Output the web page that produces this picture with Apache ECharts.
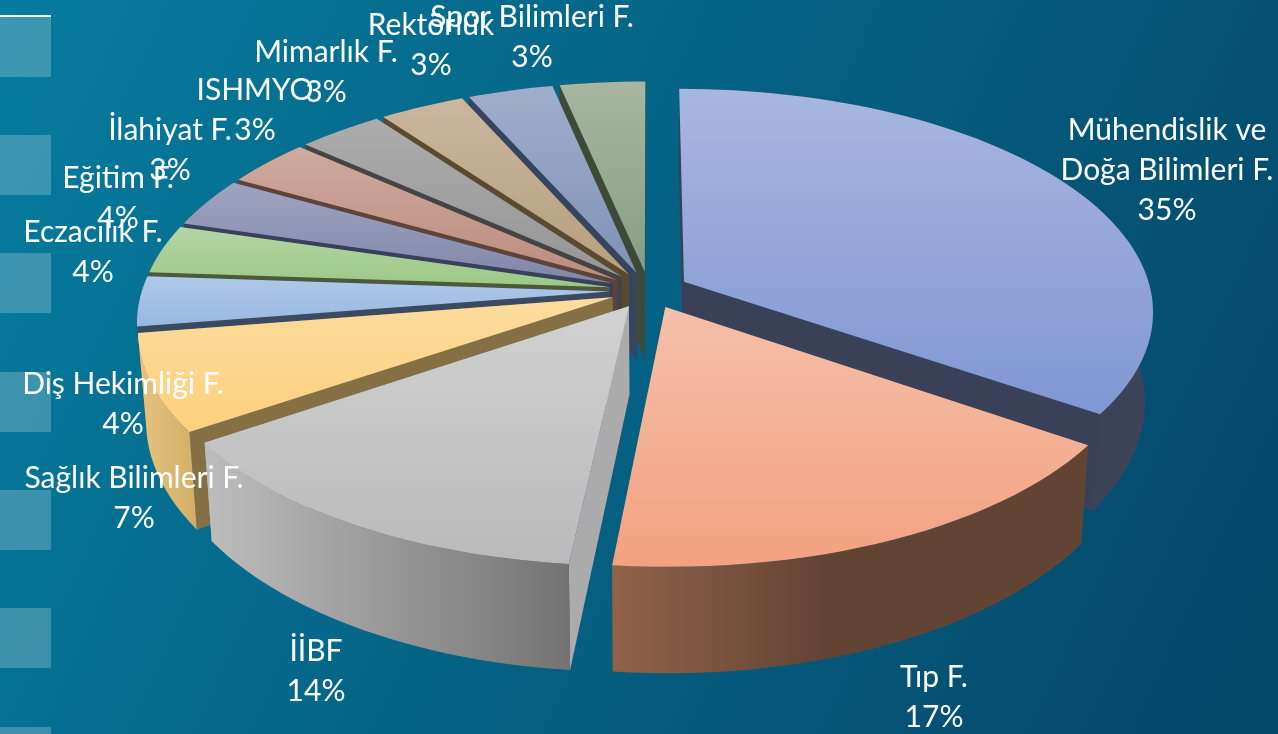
<!DOCTYPE html>
<html><head><meta charset="utf-8">
<style>html,body{margin:0;padding:0;background:#05607f}#c{width:1278px;height:734px}</style>
<script src="https://cdn.jsdelivr.net/npm/echarts@6/dist/echarts.min.js"></script>
</head><body><div id="c"></div>
<script>
const CATEGORIES = ['Mühendislik ve\nDoğa Bilimleri F.','Tıp F.','İİBF','Sağlık Bilimleri F.','Diş Hekimliği F.','Eczacılık F.','Eğitim F.','İlahiyat F.','ISHMYO','Mimarlık F.','Rektörlük','Spor Bilimleri F.'];
// unrounded shares; labels show them rounded
const VALUES = [35,16.6,13.5,6.9,3.6,3.5,3.6,3.46,3.46,3.46,3.46,3.46];
const TOP_LIGHT = ['#A8B6E0','#F4C0A9','#D1D1D1','#FDDC9F','#B0C9E9','#B4D5A5','#9EA4C0','#CFAA9F','#ACACAC','#C9B79E','#A0AEC9','#A6B6A0'];
const TOP_DARK  = ['#8197D3','#F4A180','#BABABA','#FDD07C','#97B7E2','#9CC885','#8086A8','#BB8C7D','#969696','#B59F7D','#7E92B8','#899E81'];
const WALL_L = ['#3A4057','#916249','#BDBDBD','#E6C481','#3A4A60','#4A5A3A','#38405A','#5E4438','#444444','#5A4A30','#36445E','#3E4A36'];
const WALL_R = ['#3C4359','#624435','#737373','#D2AE66','#3A4A60','#4A5A3A','#38405A','#5E4438','#444444','#5A4A30','#36445E','#3E4A36'];
const WALL_STOP = [1,0.45,1,1,1,1,1,1,1,1,1,1];
const CUT    = ['#3A4057','#6B4A38','#ABABAB','#857045','#3A4A60','#4A5A3A','#38405A','#5E4438','#444444','#5A4A30','#36445E','#3E4A36'];
// block centre of each label, in page pixels
const LABEL_X = [1167,934,316,134,123,93,118,170,255,326,431,532];
const LABEL_Y = [170,697,671,498,404,252,198,150,110,72,45,37];
const SQUARE_Y = [17,135,253,372,490,608,727];

const CX=649, CY=283, RX=465, RY=218, K=0.16, EXPLODE=0.085, H=88, SHRINK=0.984, STEP=2, APEX_DROP=7;
const TOTAL = VALUES.reduce((a,b)=>a+b,0);
const starts=[]; VALUES.reduce((acc,v,i)=>{starts[i]=acc;return acc+v;},0);
const toAngle = p => p/TOTAL*Math.PI*2;
function project(u,v,z){
  const s=1/(1-K*v);
  const xs=z?SHRINK:1;
  return [CX+RX*u*s*xs, CY+RY*v*s+(z?H*s:0)];
}
const order = VALUES.map((v,i)=>i).sort((a,b)=>-Math.cos(toAngle(starts[a]+VALUES[a]/2))+Math.cos(toAngle(starts[b]+VALUES[b]/2)));
const rank = []; order.forEach((d,r)=>rank[d]=r);
const grad=(x,y,x2,y2,a,b,stop)=>new echarts.graphic.LinearGradient(x,y,x2,y2,[{offset:0,color:a},{offset:stop===undefined?1:stop,color:b},{offset:1,color:b}]);

function renderItem(params,api){
  const i=params.dataIndex, val=api.value(0);
  const a0=toAngle(starts[i]), a1=toAngle(starts[i]+val), mid=(a0+a1)/2;
  const ox=EXPLODE*Math.sin(mid), oy=-EXPLODE*Math.cos(mid);
  const rim=[], rimB=[];
  const n=Math.max(2,Math.ceil((a1-a0)/(STEP*Math.PI/180)));
  for(let j=0;j<=n;j++){
    const t=a0+(a1-a0)*j/n, u=Math.sin(t)+ox, v=-Math.cos(t)+oy;
    rim.push(project(u,v,false)); rimB.push(project(u,v,true));
  }
  const ap=project(ox,oy,false), apB=project(ox,oy,true);
  ap[1]+=APEX_DROP; apB[1]+=APEX_DROP;
  const z=rank[i]*10;
  const kids=[];
  const poly=(pts,fill,dz)=>kids.push({type:'polygon',z2:z+dz,shape:{points:pts},style:{fill:fill,stroke:null}});
  poly([ap,rim[0],rimB[0],apB],CUT[i],1);
  poly([ap,rim[n],rimB[n],apB],CUT[i],2);
  poly(rim.concat(rimB.slice().reverse()),grad(0,0,1,0,WALL_L[i],WALL_R[i],WALL_STOP[i]),3);
  poly([ap].concat(rim),grad(0,0,0,1,TOP_LIGHT[i],TOP_DARK[i]),4);
  kids.push({type:'text',z2:1000,style:{text:CATEGORIES[i]+'\n'+Math.round(val)+'%',x:LABEL_X[i],y:LABEL_Y[i],align:'center',verticalAlign:'middle',fill:'#fff',font:'30px Lato',lineHeight:40}});
  return {type:'group',children:kids};
}

const chart=echarts.init(document.getElementById('c'),null,{renderer:'canvas'});
chart.setOption({
  animation:false,
  backgroundColor:grad(0,0,1,0.8,'#067C9E','#04486A'),
  graphic:SQUARE_Y.map(y=>({type:'rect',left:0,top:y,z:-1,shape:{width:51,height:60},style:{fill:'rgba(255,255,255,0.22)'}})).concat([
    {type:'rect',left:0,top:15,shape:{width:51,height:2},style:{fill:'#fff'}}
  ]),
  series:[{type:'custom',coordinateSystem:'none',clip:false,renderItem:renderItem,data:VALUES.map((v,i)=>({name:CATEGORIES[i],value:[v]}))}]
});
</script></body></html>
